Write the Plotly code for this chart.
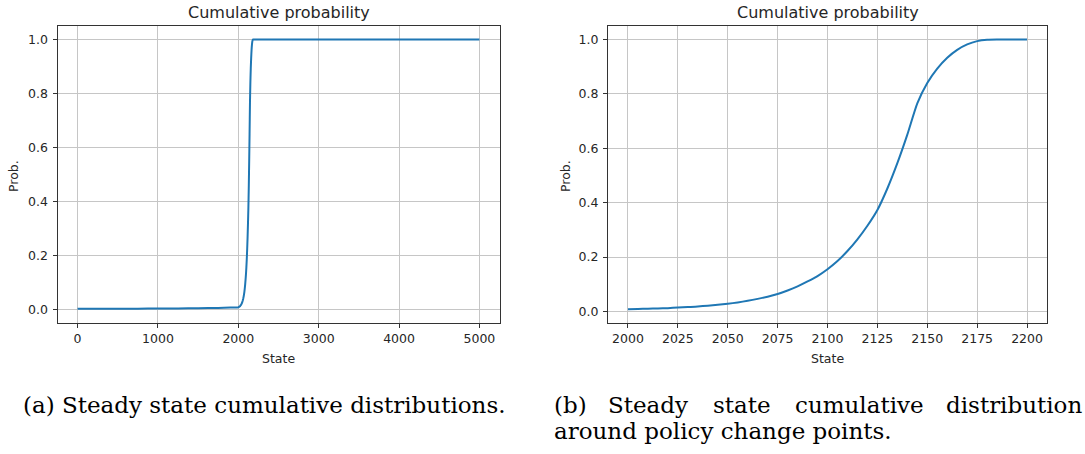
import plotly.graph_objects as go

# ---- data ----
state_low = [0, 250, 500, 750, 1000, 1250, 1500, 1750, 1900, 1950]
prob_low = [0.003, 0.003, 0.003, 0.003, 0.004, 0.004, 0.005, 0.006, 0.007, 0.007]

state_b = [2000, 2005, 2010, 2015, 2020, 2025, 2030, 2035, 2040, 2045,
           2050, 2055, 2060, 2065, 2070, 2075, 2080, 2085, 2090, 2095,
           2100, 2105, 2110, 2115, 2120, 2125, 2130, 2135, 2140, 2145,
           2150, 2155, 2160, 2165, 2170, 2175, 2180, 2185, 2190, 2195, 2200]
prob_b = [0.008, 0.009, 0.010, 0.011, 0.012, 0.014, 0.016, 0.018, 0.021, 0.024,
          0.028, 0.033, 0.039, 0.046, 0.054, 0.064, 0.077, 0.092, 0.110, 0.130,
          0.155, 0.185, 0.222, 0.265, 0.315, 0.373, 0.452, 0.545, 0.650, 0.765,
          0.840, 0.893, 0.933, 0.962, 0.982, 0.994, 0.999, 1.000, 1.000, 1.000, 1.000]

state_high = [2500, 3000, 3500, 4000, 4500, 5000]
prob_high = [1.0, 1.0, 1.0, 1.0, 1.0, 1.0]

ticks_a = [0, 1000, 2000, 3000, 4000, 5000]
ticks_b = [2000, 2025, 2050, 2075, 2100, 2125, 2150, 2175, 2200]
ticks_y = [0.0, 0.2, 0.4, 0.6, 0.8, 1.0]

title_text = "Cumulative probability"
xlabel = "State"
ylabel = "Prob."
caption_a = "(a) Steady state cumulative distributions."
caption_b_words = ["(b)", "Steady", "state", "cumulative", "distribution"]
caption_b_line2 = "around policy change points."

# ---- figure ----
W, H = 1085, 454
LINE = "#1f77b4"
GRID = "#c6c6c6"
AX = "#333333"
TXT = "#262626"
SANS = "DejaVu Sans"
SERIF = "DejaVu Serif"

fig = go.Figure()
fig.add_trace(go.Scatter(x=state_low + state_b + state_high,
                         y=prob_low + prob_b + prob_high,
                         mode="lines", line=dict(color=LINE, width=2, shape="spline", smoothing=0.6),
                         xaxis="x", yaxis="y", showlegend=False, hoverinfo="skip"))
fig.add_trace(go.Scatter(x=state_b, y=prob_b,
                         mode="lines", line=dict(color=LINE, width=2, shape="spline", smoothing=0.6),
                         xaxis="x2", yaxis="y2", showlegend=False, hoverinfo="skip"))

def px_x(p):
    return p / W

def px_y(p):
    return 1 - p / H

L1, R1 = 57.5, 499.5
L2, R2 = 608.0, 1047.0
TOP, BOT = 26.0, 323.0

ydom = [px_y(BOT), px_y(TOP)]
common_axis = dict(showline=True, linecolor=AX, linewidth=1, mirror=True,
                   showgrid=True, gridcolor=GRID, gridwidth=1,
                   ticks="outside", ticklen=4, tickcolor=AX, tickwidth=1,
                   tickfont=dict(family=SANS, size=12.5, color=TXT),
                   zeroline=False, fixedrange=True)

fig.update_layout(
    width=W, height=H,
    margin=dict(l=0, r=0, t=0, b=0),
    paper_bgcolor="white", plot_bgcolor="white",
    xaxis=dict(domain=[px_x(L1), px_x(R1)], range=[-250, 5250],
               tickvals=ticks_a, anchor="y", **common_axis),
    yaxis=dict(domain=ydom, range=[-0.05, 1.05], tickvals=ticks_y,
               tickformat=".1f", anchor="x", ticklabelstandoff=2, **common_axis),
    xaxis2=dict(domain=[px_x(L2), px_x(R2)], range=[1990, 2210],
                tickvals=ticks_b, anchor="y2", **common_axis),
    yaxis2=dict(domain=ydom, range=[-0.0427, 1.0497], tickvals=ticks_y,
                tickformat=".1f", anchor="x2", ticklabelstandoff=2, **common_axis),
)

anns = []
for cx in [(L1 + R1) / 2, (L2 + R2) / 2]:
    anns.append(dict(text=title_text, x=px_x(cx), y=px_y(12.5), xref="paper", yref="paper",
                     xanchor="center", yanchor="middle", showarrow=False,
                     font=dict(family=SANS, size=16, color=TXT)))
    anns.append(dict(text=xlabel, x=px_x(cx), y=px_y(358), xref="paper", yref="paper",
                     xanchor="center", yanchor="middle", showarrow=False,
                     font=dict(family=SANS, size=12.5, color=TXT)))
for cx in [13, 565]:
    anns.append(dict(text=ylabel, x=px_x(cx), y=px_y(176), xref="paper", yref="paper",
                     xanchor="center", yanchor="middle", showarrow=False, textangle=-90,
                     font=dict(family=SANS, size=12.5, color=TXT)))

cap_font = dict(family=SERIF, size=23, color="#000000")
anns.append(dict(text=caption_a, x=px_x(21), y=px_y(405), xref="paper", yref="paper",
                 xanchor="left", yanchor="middle", showarrow=False, font=cap_font))
word_x = [552, 606, 711, 793]
for wtxt, wx in zip(caption_b_words[:4], word_x):
    anns.append(dict(text=wtxt, x=px_x(wx), y=px_y(405), xref="paper", yref="paper",
                     xanchor="left", yanchor="middle", showarrow=False, font=cap_font))
anns.append(dict(text=caption_b_words[4], x=px_x(1084), y=px_y(405), xref="paper", yref="paper",
                 xanchor="right", yanchor="middle", showarrow=False, font=cap_font))
anns.append(dict(text=caption_b_line2, x=px_x(552), y=px_y(431), xref="paper", yref="paper",
                 xanchor="left", yanchor="middle", showarrow=False, font=cap_font))

fig.update_layout(annotations=anns)
fig.write_html("out.html", config={"displayModeBar": False, "staticPlot": True},
               post_script="document.body.style.margin='0';")
